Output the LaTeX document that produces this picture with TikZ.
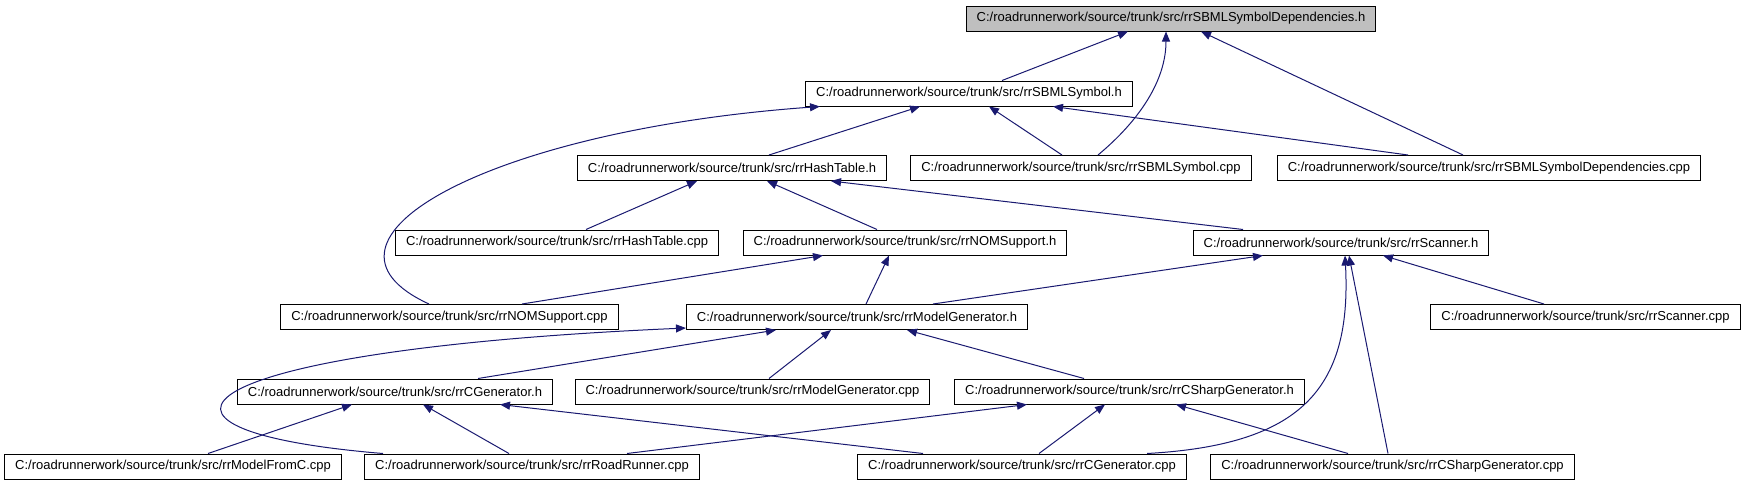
\documentclass[tikz,border=0pt]{standalone}
\usepackage{fontspec}
\setmainfont{Liberation Sans}
\usetikzlibrary{arrows.meta}
\definecolor{edgeblue}{RGB}{25,25,112}
\definecolor{rootgray}{RGB}{191,191,191}

\begin{document}
\begin{tikzpicture}[x=1pt, y=-1pt,
  file/.style={draw=black, line width=1pt, fill=white, inner xsep=10.5pt, inner ysep=0pt,
    minimum height=25pt, font=\fontsize{13}{15}\selectfont},
  dep/.style={draw=edgeblue, line width=1pt, -{Triangle[length=10pt,width=8pt]}}]
  \useasboundingbox (0,0) rectangle (1747,485);

  \node[file, fill=rootgray] (deps_h) at (1171,18.5) {C:/roadrunnerwork/source/trunk/src/rrSBMLSymbolDependencies.h};
  \node[file] (sym_h) at (969,93.5) {C:/roadrunnerwork/source/trunk/src/rrSBMLSymbol.h};
  \node[file] (hash_h) at (732,168) {C:/roadrunnerwork/source/trunk/src/rrHashTable.h};
  \node[file] (sym_cpp) at (1081,168) {C:/roadrunnerwork/source/trunk/src/rrSBMLSymbol.cpp};
  \node[file] (deps_cpp) at (1489,168) {C:/roadrunnerwork/source/trunk/src/rrSBMLSymbolDependencies.cpp};
  \node[file] (hash_cpp) at (557,242.5) {C:/roadrunnerwork/source/trunk/src/rrHashTable.cpp};
  \node[file] (nom_h) at (905,242.5) {C:/roadrunnerwork/source/trunk/src/rrNOMSupport.h};
  \node[file] (scan_h) at (1341,242.5) {C:/roadrunnerwork/source/trunk/src/rrScanner.h};
  \node[file] (nom_cpp) at (449.5,317) {C:/roadrunnerwork/source/trunk/src/rrNOMSupport.cpp};
  \node[file] (mg_h) at (857,317) {C:/roadrunnerwork/source/trunk/src/rrModelGenerator.h};
  \node[file] (scan_cpp) at (1585.5,317) {C:/roadrunnerwork/source/trunk/src/rrScanner.cpp};
  \node[file] (cg_h) at (395,391.5) {C:/roadrunnerwork/source/trunk/src/rrCGenerator.h};
  \node[file] (mg_cpp) at (752.5,391.5) {C:/roadrunnerwork/source/trunk/src/rrModelGenerator.cpp};
  \node[file] (csg_h) at (1129.5,391.5) {C:/roadrunnerwork/source/trunk/src/rrCSharpGenerator.h};
  \node[file] (mfc_cpp) at (173,466.5) {C:/roadrunnerwork/source/trunk/src/rrModelFromC.cpp};
  \node[file] (rr_cpp) at (532,466.5) {C:/roadrunnerwork/source/trunk/src/rrRoadRunner.cpp};
  \node[file] (cg_cpp) at (1022,466.5) {C:/roadrunnerwork/source/trunk/src/rrCGenerator.cpp};
  \node[file] (csg_cpp) at (1392.5,466.5) {C:/roadrunnerwork/source/trunk/src/rrCSharpGenerator.cpp};

  % includes of rrSBMLSymbolDependencies.h
  \draw[dep] ([xshift=33pt]sym_h.north) -- ([xshift=-43pt]deps_h.south);
  \draw[dep] ([xshift=17pt]sym_cpp.north) .. controls (1140,120) and (1166,80) .. ([xshift=-5pt]deps_h.south);
  \draw[dep] ([xshift=-26pt]deps_cpp.north) -- ([xshift=30pt]deps_h.south);

  % includes of rrSBMLSymbol.h
  \draw[dep] ([xshift=-20.5pt]nom_cpp.north) .. controls (290,240) and (490,130) .. ([xshift=-149pt]sym_h.south);
  \draw[dep] ([xshift=37pt]hash_h.north) -- ([xshift=-49pt]sym_h.south);
  \draw[dep] ([xshift=-19pt]sym_cpp.north) -- ([xshift=20pt]sym_h.south);
  \draw[dep] ([xshift=-81pt]deps_cpp.north) -- ([xshift=84pt]sym_h.south);

  % includes of rrHashTable.h
  \draw[dep] ([xshift=29pt]hash_cpp.north) -- ([xshift=-35pt]hash_h.south);
  \draw[dep] ([xshift=-28pt]nom_h.north) -- ([xshift=35pt]hash_h.south);
  \draw[dep] ([xshift=-98pt]scan_h.north) -- ([xshift=99pt]hash_h.south);

  % includes of rrNOMSupport.h and rrScanner.h
  \draw[dep] ([xshift=72.5pt]nom_cpp.north) -- ([xshift=-82pt]nom_h.south);
  \draw[dep] ([xshift=9pt]mg_h.north) -- ([xshift=-16pt]nom_h.south);
  \draw[dep] ([xshift=76pt]mg_h.north) -- ([xshift=-78pt]scan_h.south);
  \draw[dep] ([xshift=-41.5pt]scan_cpp.north) -- ([xshift=42pt]scan_h.south);
  \draw[dep] ([xshift=125pt]cg_cpp.north) .. controls (1300,445) and (1352,390) .. ([xshift=4pt]scan_h.south);
  \draw[dep] ([xshift=-4.5pt]csg_cpp.north) -- ([xshift=8pt]scan_h.south);

  % includes of rrModelGenerator.h
  \draw[dep] ([xshift=83pt]cg_h.north) -- ([xshift=-81pt]mg_h.south);
  \draw[dep] ([xshift=16.5pt]mg_cpp.north) -- ([xshift=-26pt]mg_h.south);
  \draw[dep] ([xshift=-45.5pt]csg_h.north) -- ([xshift=50pt]mg_h.south);
  \draw[dep] ([xshift=-149pt]rr_cpp.north) .. controls (100,430) and (180,350) .. ([yshift=2pt]mg_h.south west);

  % includes of rrCGenerator.h and rrCSharpGenerator.h
  \draw[dep] ([xshift=35pt]mfc_cpp.north) -- ([xshift=-43pt]cg_h.south);
  \draw[dep] ([xshift=-23pt]rr_cpp.north) -- ([xshift=28pt]cg_h.south);
  \draw[dep] ([xshift=-99pt]cg_cpp.north) -- ([xshift=105pt]cg_h.south);
  \draw[dep] ([xshift=95pt]rr_cpp.north) -- ([xshift=-102.5pt]csg_h.south);
  \draw[dep] ([xshift=17pt]cg_cpp.north) -- ([xshift=-24.5pt]csg_h.south);
  \draw[dep] ([xshift=-44.5pt]csg_cpp.north) -- ([xshift=46.5pt]csg_h.south);
\end{tikzpicture}
\end{document}
